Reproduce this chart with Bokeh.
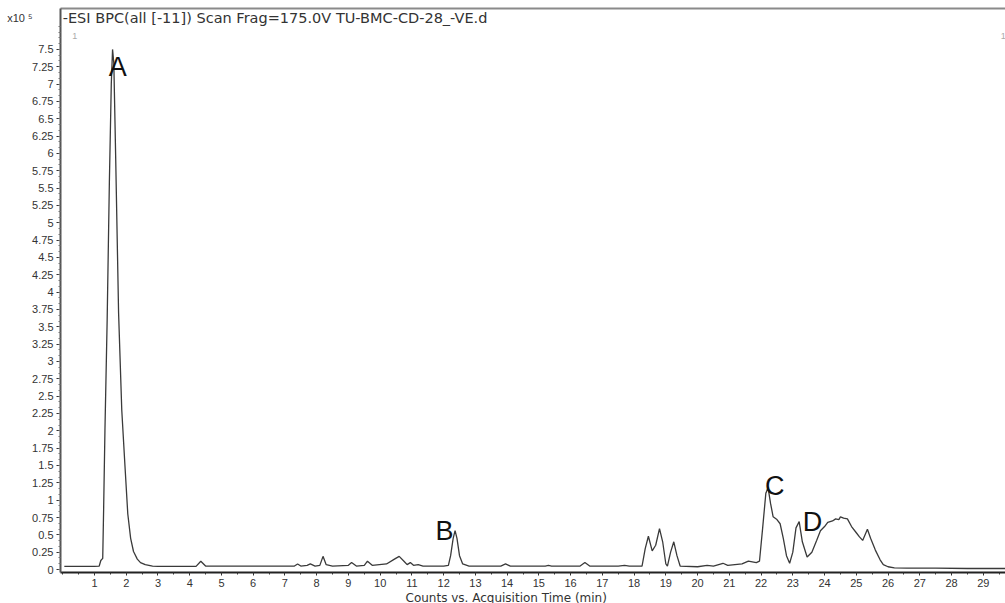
from bokeh.plotting import figure
from bokeh.models import FixedTicker, Range1d, LinearAxis, Label, Title
from bokeh.embed import file_html
from bokeh.resources import INLINE

# Base peak chromatogram, intensity in units of 1e5 counts
time_min = [
    0.05, 0.5, 1.0, 1.15, 1.2, 1.26, 1.29, 1.33, 1.40, 1.47, 1.53, 1.57, 1.61, 1.67,
    1.76, 1.86, 1.96, 2.05, 2.14, 2.23, 2.35, 2.45, 2.6, 2.83, 3.0, 4.2, 4.35, 4.5,
    7.3, 7.4, 7.5, 7.7, 7.8, 7.95, 8.1, 8.2, 8.3, 8.5, 9.0, 9.1, 9.25, 9.5, 9.6, 9.75,
    10.2, 10.45, 10.6, 10.75, 10.85, 10.95, 11.05, 11.2, 11.35, 12.0, 12.15, 12.22,
    12.3, 12.36, 12.42, 12.5, 12.6, 12.8, 13.8, 13.95, 14.1, 15.2, 15.3, 15.4, 16.3,
    16.45, 16.6, 17.5, 17.7, 17.85, 18.25, 18.35, 18.45, 18.57, 18.68, 18.8, 18.9,
    19.0, 19.05, 19.15, 19.25, 19.35, 19.45, 20.0, 20.3, 20.5, 20.8, 20.95, 21.4,
    21.6, 21.85, 21.95, 22.05, 22.15, 22.22, 22.3, 22.38, 22.5, 22.6, 22.7, 22.8,
    22.9, 23.0, 23.1, 23.2, 23.3, 23.45, 23.6, 23.75, 23.87, 24.0, 24.1, 24.25,
    24.35, 24.45, 24.5, 24.6, 24.72, 24.85, 25.0, 25.1, 25.2, 25.35, 25.45, 25.6,
    25.75, 25.85, 26.0, 26.2, 26.6, 27.5, 28.5, 29.0, 29.7,
]
counts_e5 = [
    0.045, 0.045, 0.045, 0.05, 0.13, 0.16, 0.9, 2.0, 3.6, 5.6, 7.0, 7.5, 7.3, 5.9,
    3.7, 2.3, 1.5, 0.8, 0.45, 0.26, 0.15, 0.10, 0.07, 0.05, 0.045, 0.045, 0.12, 0.05,
    0.05, 0.08, 0.05, 0.06, 0.08, 0.05, 0.06, 0.19, 0.07, 0.05, 0.06, 0.1, 0.05, 0.06,
    0.12, 0.06, 0.08, 0.15, 0.19, 0.12, 0.07, 0.1, 0.06, 0.07, 0.05, 0.05, 0.06, 0.2,
    0.45, 0.56, 0.45, 0.2, 0.08, 0.05, 0.05, 0.08, 0.05, 0.05, 0.06, 0.05, 0.05,
    0.1, 0.05, 0.05, 0.06, 0.05, 0.05, 0.3, 0.48, 0.27, 0.35, 0.59, 0.4,
    0.08, 0.05, 0.25, 0.4, 0.2, 0.05, 0.04, 0.06, 0.05, 0.09, 0.06, 0.08,
    0.12, 0.1, 0.12, 0.6, 1.1, 1.18, 0.95, 0.76, 0.72, 0.66, 0.45, 0.2,
    0.09, 0.25, 0.6, 0.69, 0.4, 0.18, 0.25, 0.42, 0.56, 0.62, 0.68, 0.7,
    0.73, 0.72, 0.76, 0.74, 0.73, 0.62, 0.53, 0.47, 0.42, 0.58, 0.45, 0.28,
    0.14, 0.07, 0.04, 0.025, 0.02, 0.02, 0.015, 0.015, 0.015,
]

# Peak annotations
peak_names = ["A", "B", "C", "D"]
peak_x = [1.73, 12.03, 22.43, 23.62]
peak_y = [7.24, 0.56, 1.21, 0.69]

x_ticks = list(range(1, 30))
y_ticks = [i * 0.25 for i in range(31)]
y_tick_labels = ["0", "0.25", "0.5", "0.75", "1", "1.25", "1.5", "1.75", "2", "2.25",
                 "2.5", "2.75", "3", "3.25", "3.5", "3.75", "4", "4.25", "4.5", "4.75",
                 "5", "5.25", "5.5", "5.75", "6", "6.25", "6.5", "6.75", "7", "7.25", "7.5"]

title_text = "-ESI BPC(all [-11]) Scan Frag=175.0V TU-BMC-CD-28_-VE.d"
x_label = "Counts vs. Acquisition Time (min)"
scale_text = "x10 \u2075"
scale_y = 7.95

FONT = "Liberation Sans"
WIDE = "DejaVu Sans"
INK = "#333333"

p = figure(width=1005, height=603, output_backend="svg", toolbar_location=None,
           x_range=Range1d(-0.07, 29.7), y_range=Range1d(-0.043, 8.09),
           min_border_left=60, min_border_right=0, min_border_top=8,
           min_border_bottom=30)
p.outline_line_color = None
p.grid.visible = False
p.background_fill_color = "white"
p.border_fill_color = "white"

p.line(time_min, counts_e5, line_color="#3a3a3a", line_width=1.3)

# x axis
xa = p.xaxis[0]
xa.ticker = FixedTicker(ticks=x_ticks, minor_ticks=[i * 0.5 for i in range(60)])
xa.axis_line_color = "#222222"
xa.axis_line_width = 2
xa.major_tick_line_color = INK
xa.major_tick_in = 0
xa.major_tick_out = 3
xa.minor_tick_line_color = INK
xa.minor_tick_in = 0
xa.minor_tick_out = 2
xa.major_label_text_font = FONT
xa.major_label_text_font_size = "11px"
xa.major_label_text_color = INK
xa.major_label_standoff = 3

# x axis caption, set left of centre under the time scale
p.add_layout(Title(text=x_label, align="left", offset=345, standoff=-2,
                   text_font=WIDE, text_font_size="12px", text_font_style="normal",
                   text_color=INK), "below")

# y axis
ya = p.yaxis[0]
ya.ticker = FixedTicker(ticks=y_ticks, minor_ticks=[i * 0.25 / 3 for i in range(95)])
ya.major_label_overrides = {t: s for t, s in zip(y_ticks, y_tick_labels)}
ya.axis_line_color = "#555555"
ya.axis_line_width = 2
ya.major_tick_line_color = INK
ya.major_tick_in = 0
ya.major_tick_out = 4
ya.minor_tick_line_color = "#777777"
ya.minor_tick_in = 0
ya.minor_tick_out = 2
ya.major_label_text_font = FONT
ya.major_label_text_font_size = "11px"
ya.major_label_text_color = INK
ya.major_label_standoff = 3

# exponent marker beside the y axis
scale_axis = LinearAxis(ticker=FixedTicker(ticks=[scale_y]),
                        major_label_overrides={scale_y: scale_text},
                        major_label_text_font=FONT, major_label_text_font_size="11px",
                        major_label_text_color=INK, major_label_standoff=-9,
                        axis_line_color=None, major_tick_line_color=None,
                        minor_tick_line_color=None)
p.add_layout(scale_axis, "left")

# top frame line
top = LinearAxis(ticker=FixedTicker(ticks=[]), major_label_text_font_size="0px",
                 major_tick_line_color=None, minor_tick_line_color=None,
                 axis_line_color="#8a8a8a", axis_line_width=2)
p.add_layout(top, "above")

# header texts
p.add_layout(Label(x=0.0, y=7.95, text=title_text, text_font=WIDE,
                   text_font_size="14.5px", text_color=INK, text_baseline="middle"))
p.add_layout(Label(x=0.3, y=7.7, text="1", text_font=FONT,
                   text_font_size="9px", text_color="#aaaaaa", text_baseline="middle"))
p.add_layout(Label(x=29.55, y=7.7, text="1", text_font=FONT,
                   text_font_size="9px", text_color="#aaaaaa", text_baseline="middle"))

for name, px, py in zip(peak_names, peak_x, peak_y):
    p.add_layout(Label(x=px, y=py, text=name, text_font=FONT, text_font_size="27px",
                       text_color="#111111", text_align="center",
                       text_baseline="middle"))

open("out.html", "w").write(file_html(p, INLINE))
